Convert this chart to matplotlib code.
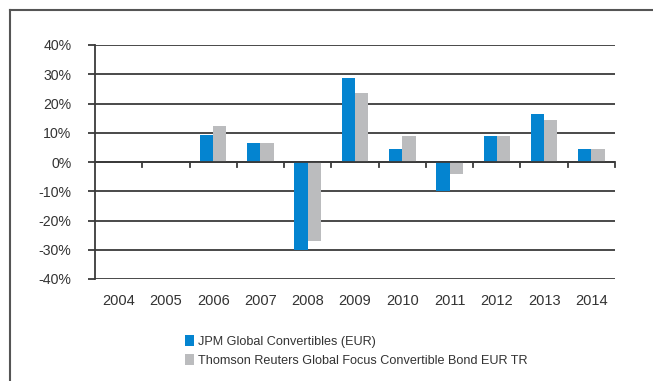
import matplotlib.pyplot as plt
import numpy as np
from matplotlib.lines import Line2D
from matplotlib.patches import Patch

# annual returns, in percent
years = ['2004', '2005', '2006', '2007', '2008', '2009', '2010', '2011', '2012', '2013', '2014']
jpm = [np.nan, np.nan, 9.2, 6.6, -30.0, 28.6, 4.4, -9.9, 8.9, 16.3, 4.4]
thomson = [np.nan, np.nan, 12.3, 6.6, -27.0, 23.5, 8.9, -4.1, 8.9, 14.2, 4.4]
labels = ['JPM Global Convertibles (EUR)',
          'Thomson Reuters Global Focus Convertible Bond EUR TR']

blue = '#0484d0'
grey = '#bbbcbe'
dark = '#3a3a3a'

plt.rcParams['font.family'] = ['Liberation Sans', 'DejaVu Sans']

fig = plt.figure(figsize=(6.53, 3.81), dpi=100)
W, H = 653, 381
ax = fig.add_axes([95 / W, 1 - 279 / H, 520 / W, 234 / H])

x = np.arange(len(years))
bw = 0.28
ax.bar(x - bw / 2, jpm, bw, color=blue, zorder=3)
ax.bar(x + bw / 2, thomson, bw, color=grey, zorder=3)

ax.set_xlim(-0.5, len(years) - 0.5)
ax.set_ylim(-40, 40)
ax.set_yticks(np.arange(-40, 41, 10))
ax.set_yticklabels([f'{v}%' for v in range(-40, 41, 10)])
ax.yaxis.grid(True, color=dark, linewidth=1.3, zorder=1)
for s in ['top', 'right', 'bottom']:
    ax.spines[s].set_visible(False)
ax.spines['left'].set_color(dark)
ax.spines['left'].set_linewidth(1.3)
ax.tick_params(axis='y', length=5, width=1.3, color=dark, pad=12,
               labelsize=10.2, labelcolor='#333333')

# category labels under the plot, tick marks on the zero line
ax.set_xticks([])
for i, yr in enumerate(years):
    ax.text(i, -47.5, yr, ha='center', va='center', fontsize=10.5, color='#333333')
for b in np.arange(0.5, len(years), 1.0):
    ax.plot([b, b], [0, -1.6], color=dark, linewidth=1.3, zorder=4, clip_on=False)
ax.axhline(0, color=dark, linewidth=1.3, zorder=4)

handles = [Patch(facecolor=blue), Patch(facecolor=grey)]
fig.legend(handles, labels, loc='upper left', bbox_to_anchor=(185 / W, 1 - 335 / H),
           frameon=False, fontsize=9.1, handlelength=0.75, handleheight=1.0,
           handletextpad=0.25, labelspacing=0.45, borderpad=0, borderaxespad=0,
           labelcolor='#333333')

# outer frame
fig.add_artist(Line2D([10 / W, 1], [1 - 10 / H, 1 - 10 / H], color='#555555', linewidth=1.5))
fig.add_artist(Line2D([10 / W, 10 / W], [0, 1 - 10 / H], color='#555555', linewidth=1.5))

fig.savefig('out.png', dpi=100)
